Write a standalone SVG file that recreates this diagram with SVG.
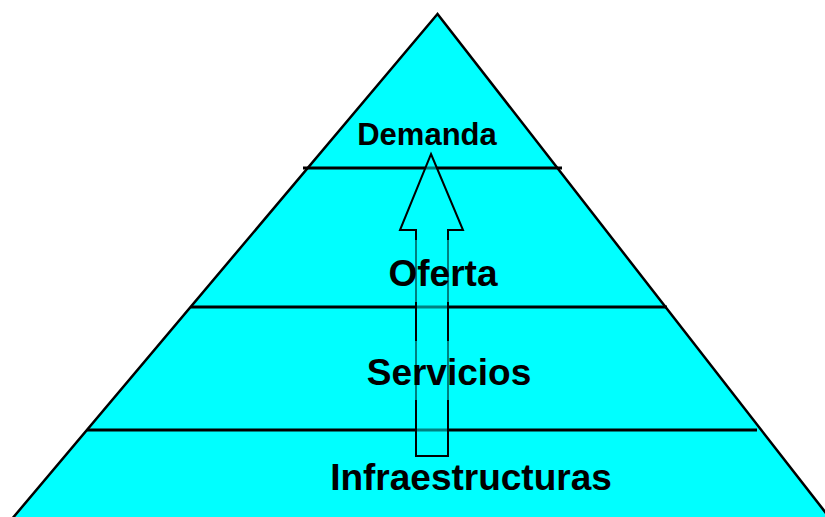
<svg xmlns="http://www.w3.org/2000/svg" width="825" height="517" viewBox="0 0 825 517">
<style>
.lbl{font-family:"Liberation Sans",Arial,sans-serif;font-weight:bold;fill:#000;text-anchor:middle}
.sep{stroke:#000;stroke-width:3;fill:none}
.veil{fill:#00ffff;fill-opacity:0.5}
</style>
<rect width="825" height="517" fill="#fff"/>
<g id="pyramid">
<polygon points="437.5,14 6,526 836,526" fill="#00ffff" stroke="#000" stroke-width="2.5" stroke-linejoin="miter"/>
</g>
<g id="levels">
<line class="sep" x1="303" y1="168" x2="562" y2="168"/>
<line class="sep" x1="191" y1="307" x2="667" y2="307"/>
<line class="sep" x1="87" y1="430" x2="757" y2="430"/>
</g>
<g id="connectors">
<polygon id="arrow" points="431,154 463,230 448,230 448,456 416,456 416,230 400,230" fill="#00ffff" fill-opacity="0.5" stroke="#000" stroke-width="2"/>
</g>
<g id="demanda">
<text class="lbl" x="427" y="145" font-size="31">Demanda</text>
</g>
<g id="oferta">
<rect class="veil" x="388" y="240" width="110" height="62"/>
<text class="lbl" x="443" y="286" font-size="37">Oferta</text>
</g>
<g id="servicios">
<rect class="veil" x="366" y="341" width="167" height="59"/>
<text class="lbl" x="449" y="385" font-size="37">Servicios</text>
</g>
<g id="infraestructuras">
<text class="lbl" x="471" y="490" font-size="37">Infraestructuras</text>
</g>
</svg>
